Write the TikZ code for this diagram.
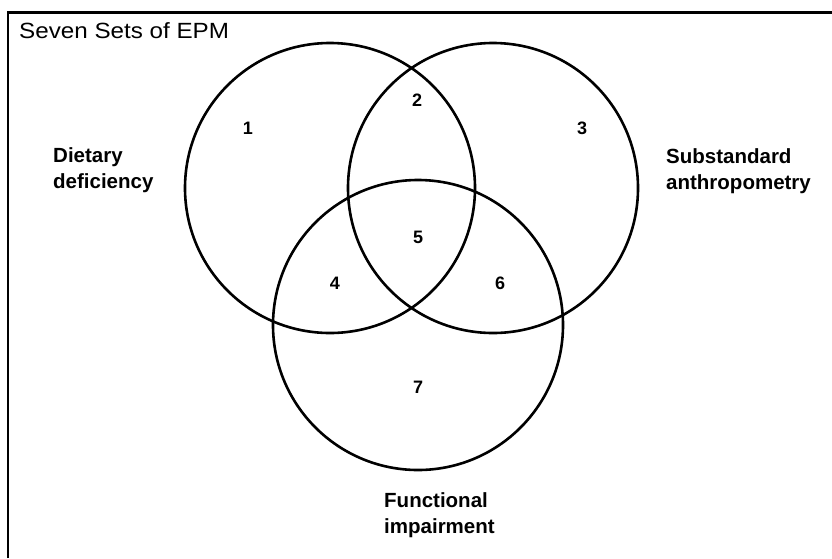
\documentclass[tikz,border=0pt]{standalone}
\usepackage{fontspec}
\setmainfont{Liberation Sans}
\newfontfamily\titlefont[FakeStretch=1.1]{Liberation Sans}
\begin{document}
\begin{tikzpicture}[x=1pt,y=-1pt,
  setcircle/.style={circle,draw,line width=2.6pt,minimum size=290pt,inner sep=0pt},
  num/.style={font=\fontsize{18}{20}\selectfont\bfseries,inner sep=0pt},
  lab/.style={font=\fontsize{20.5}{26.5}\selectfont\bfseries,align=left,inner sep=0pt,anchor=north west},
  frameline/.style={line width=2.6pt}]
\useasboundingbox (0,0) rectangle (832,558);
\coordinate (fl) at (8,558);
\coordinate (fc) at (8,12.5);
\coordinate (fr) at (832,12.5);
\draw[frameline] (fl) -- (fc) -- (fr);
\node[anchor=base west,inner sep=0pt,font=\titlefont\fontsize{22}{24}\selectfont] (title) at (19,38.5) {Seven Sets of EPM};
\node[setcircle] (cA) at (330,188) {};
\node[setcircle] (cB) at (493,188) {};
\node[setcircle] (cC) at (418,325) {};
\node[num] (n1) at (248,128) {1};
\node[num] (n2) at (417,100) {2};
\node[num] (n3) at (582,128) {3};
\node[num] (n5) at (418,237) {5};
\node[num] (n4) at (335,283) {4};
\node[num] (n6) at (500,283) {6};
\node[num] (n7) at (418,387) {7};
\node[lab] (ld) at (53,147) {Dietary\\deficiency};
\node[lab] (ls) at (666,148) {Substandard\\anthropometry};
\node[lab] (lf) at (384,492) {Functional\\impairment};
\end{tikzpicture}
\end{document}
